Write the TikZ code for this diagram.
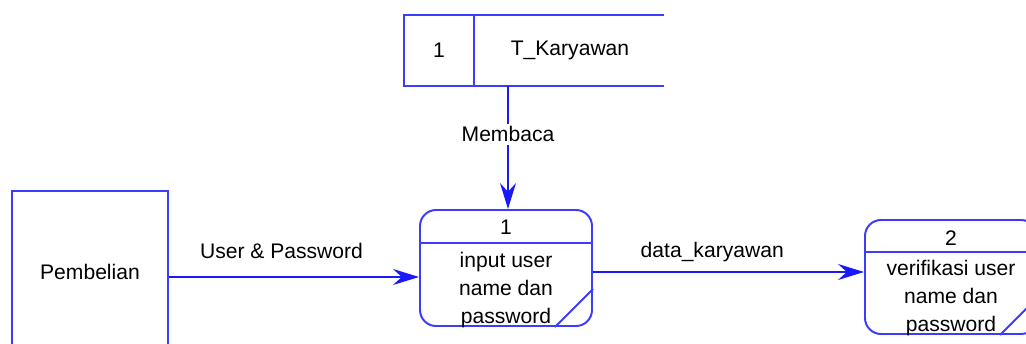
\documentclass[tikz,border=0pt]{standalone}
\usepackage{fontspec}
\setmainfont{Liberation Sans}
\usetikzlibrary{arrows.meta}

\definecolor{bleu}{RGB}{60,60,250}
\definecolor{fleche}{RGB}{25,25,250}

\tikzset{
    texte/.style={font=\fontsize{15}{20}\selectfont, text=black, inner sep=1pt},
    proses/.style={draw=bleu, line width=1.4pt, rounded corners=0.4cm, minimum width=4.3cm, anchor=center},
    aliran/.style={draw=fleche, line width=1.3pt, -{Stealth[length=6.5mm, width=4mm, inset=2.2mm]}}
}

\begin{document}
\begin{tikzpicture}

        \useasboundingbox (0,0) rectangle (25.65,-8.6);
        \clip (0,0) rectangle (25.65,-8.6);

        % Le stock de données
        \node[minimum width=6.5cm, minimum height=1.775cm] (store) at (13.35,-1.2625) {};
        \draw[bleu, line width=1.4pt] (store.north east) -- (store.north west) -- (store.south west) -- (store.south east);
        \draw[bleu, line width=1.4pt] (11.85,-0.375) -- (11.85,-2.15);
        \node[texte] (storeid) at (10.975,-1.25) {1};
        \node[texte] (storename) at (14.25,-1.25) {T\_Karyawan};

        % L'entité externe
        \node[draw=bleu, line width=1.4pt, minimum width=3.9cm, minimum height=4.05cm, texte] (ent) at (2.25,-6.8) {Pembelian};

        % Les processus
        \node[proses, minimum height=2.9cm] (p1) at (12.65,-6.7) {};
        \draw[bleu, line width=1.4pt] (p1.west |- 0,-6.075) -- (p1.east |- 0,-6.075);
        \draw[bleu, line width=1.4pt] ([xshift=-0.95cm]p1.south east) -- ([yshift=0.95cm]p1.south east);
        \node[texte] (p1id) at (12.65,-5.675) {1};
        \node[texte, align=center] (p1txt) at (12.65,-7.25) {input user\\name dan\\password};

        \node[proses, minimum height=2.85cm] (p2) at (23.775,-6.925) {};
        \draw[bleu, line width=1.4pt] (p2.west |- 0,-6.3) -- (p2.east |- 0,-6.3);
        \draw[bleu, line width=1.4pt] ([xshift=-0.95cm]p2.south east) -- ([yshift=0.95cm]p2.south east);
        \node[texte] (p2id) at (23.775,-5.95) {2};
        \node[texte, align=center] (p2txt) at (23.775,-7.45) {verifikasi user\\name dan\\password};

        % Les flux
        \draw[aliran] (store.south -| 12.7,0) -- node[texte, pos=0.39, fill=white, inner sep=2pt] (lbl1) {Membaca} (p1.north -| 12.7,0);
        \draw[aliran] (ent.east |- 0,-6.925) -- node[texte, pos=0.45, above=0.4cm] (lbl2) {User \& Password} (p1.west |- 0,-6.925);
        \draw[aliran] (p1.east |- 0,-6.8) -- node[texte, pos=0.44, above=0.2cm] (lbl3) {data\_karyawan} (p2.west |- 0,-6.8);

    \end{tikzpicture}
\end{document}
